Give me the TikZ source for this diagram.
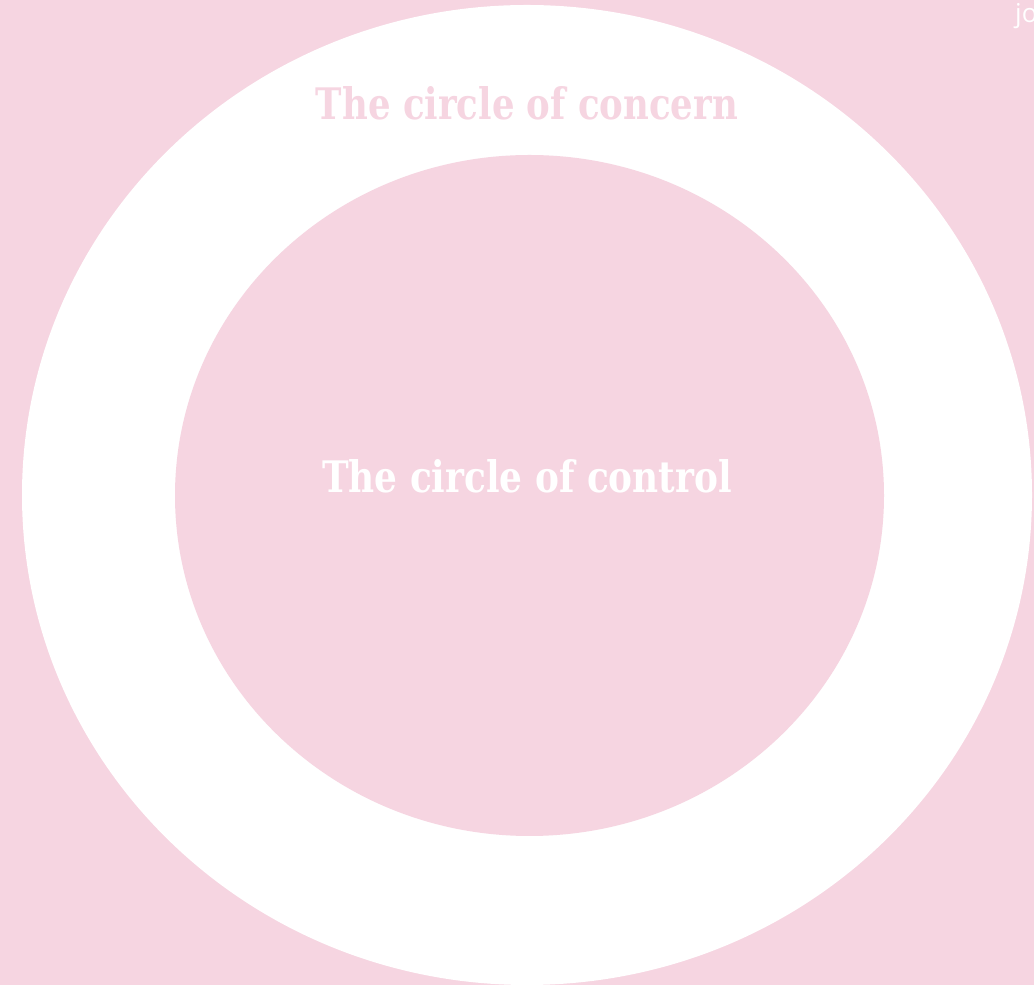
\documentclass[tikz,border=0pt]{standalone}
\usepackage{fontspec}
\setmainfont{DejaVu Serif}
\newfontfamily\jofont{Open Sans}
\definecolor{bgpink}{HTML}{F6D5E1}
\begin{document}
\begin{tikzpicture}[x=1pt,y=1pt,
  title/.style={inner sep=0pt, font=\bfseries},
]
\useasboundingbox (0,0) rectangle (1034,985);
\clip (0,0) rectangle (1034,985);
\fill[bgpink] (0,0) rectangle (1034,985);
\fill[white] (527,490) ellipse [x radius=505, y radius=490];
\fill[bgpink] (529.5,489.5) ellipse [x radius=354.5, y radius=340.5];
\node[title, text=bgpink] (concern) at (527,882) {\resizebox{422pt}{33pt}{The circle of concern}};
\node[title, text=white] (control) at (527,509) {\resizebox{410pt}{33pt}{The circle of control}};
\node[anchor=base west, inner sep=0pt, text=white, font=\jofont\fontsize{26}{30}\selectfont] (jo) at (1015,962) {jo};
\end{tikzpicture}
\end{document}
